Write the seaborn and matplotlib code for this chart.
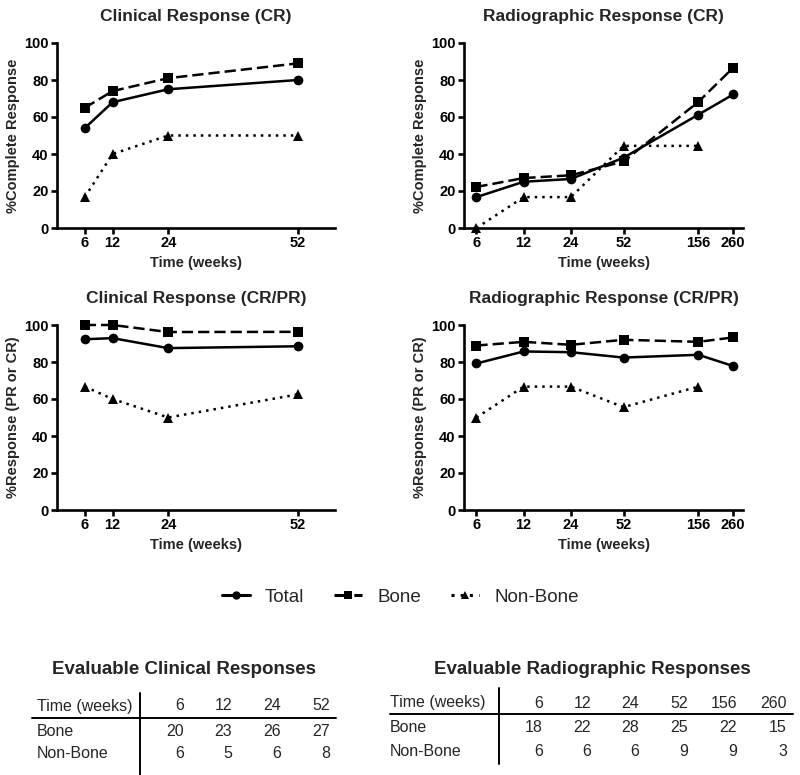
import numpy as np
import pandas as pd
import matplotlib
matplotlib.use('Agg')
import matplotlib.pyplot as plt
from matplotlib.lines import Line2D
import seaborn as sns

# ─── Data ─────────────────────────────────────────────────────────────────────
CLIN_WEEKS = [6, 12, 24, 52]
RAD_WEEKS  = [6, 12, 24, 52, 156, 260]

clin_cr_total    = [54.0, 68.0, 75.0, 80.0]
clin_cr_bone     = [65.0, 74.0, 81.0, 89.0]
clin_cr_nonbone  = [16.7, 40.0, 50.0, 50.0]

rad_cr_total     = [16.7, 25.0, 26.5, 38.0, 61.3, 72.2]
rad_cr_bone      = [22.2, 27.0, 28.5, 36.0, 68.2, 86.7]
rad_cr_nonbone   = [0.0, 16.7, 16.7, 44.4, 44.4]

clin_pr_total    = [92.3, 92.9, 87.5, 88.5]
clin_pr_bone     = [100.0, 100.0, 96.2, 96.3]
clin_pr_nonbone  = [66.7, 60.0, 50.0, 62.5]

rad_pr_total     = [79.2, 85.7, 85.3, 82.4, 83.9, 77.8]
rad_pr_bone      = [88.9, 90.9, 89.3, 92.0, 90.9, 93.3]
rad_pr_nonbone   = [50.0, 66.7, 66.7, 55.6, 66.7]

GROUPS = ['Total', 'Bone', 'Non-Bone']

clin_n_bone    = [20, 23, 26, 27]
clin_n_nonbone = [6, 5, 6, 8]
rad_n_bone     = [18, 22, 28, 25, 22, 15]
rad_n_nonbone  = [6, 6, 6, 9, 9, 3]

# ─── Style ────────────────────────────────────────────────────────────────────
sns.set_theme(style='ticks')
plt.rcParams['font.family'] = ['Liberation Sans', 'DejaVu Sans']
plt.rcParams['axes.linewidth'] = 1.9
plt.rcParams['xtick.major.width'] = 1.9
plt.rcParams['ytick.major.width'] = 1.9
plt.rcParams['xtick.major.size'] = 4.5
plt.rcParams['ytick.major.size'] = 4.5
plt.rcParams['axes.edgecolor'] = 'black'

MARKERS = {'Total': 'o', 'Bone': 's', 'Non-Bone': '^'}
DASHES  = {'Total': '', 'Bone': (4.5, 2), 'Non-Bone': (1, 2)}
PALETTE = {g: 'black' for g in GROUPS}

W, H = 800, 775
fig = plt.figure(figsize=(8, 7.75), dpi=100)


def px_axes(x0, y0, x1, y1):
    return fig.add_axes([x0 / W, 1 - y1 / H, (x1 - x0) / W, (y1 - y0) / H])


def make_df(weeks, total, bone, nonbone):
    rows = []
    for g, vals in zip(GROUPS, [total, bone, nonbone]):
        for w, v in zip(weeks, vals):
            rows.append({'week': w, 'pct': v, 'group': g})
    return pd.DataFrame(rows)


def panel(ax, df, title, ylabel, weeks, log=False):
    if log:
        ax.set_xscale('log')
    sns.lineplot(data=df, x='week', y='pct', hue='group', style='group',
                 hue_order=GROUPS, style_order=GROUPS, palette=PALETTE,
                 markers=MARKERS, dashes=DASHES, markersize=7,
                 markeredgewidth=0, linewidth=1.8, legend=False, ax=ax,
                 clip_on=False)
    ax.set_ylim(0, 100)
    ax.set_yticks([0, 20, 40, 60, 80, 100])
    if log:
        ax.set_xlim(5.0, 300)
    else:
        ax.set_xlim(0, 60)
    ax.set_xticks(weeks)
    ax.set_xticklabels([str(w) for w in weeks])
    ax.xaxis.set_minor_locator(matplotlib.ticker.NullLocator())
    ax.tick_params(labelsize=10.5, colors='black', pad=1.5)
    for lab in ax.get_xticklabels() + ax.get_yticklabels():
        lab.set_fontweight('bold')
    ax.set_title(title, fontsize=12.5, fontweight='bold', pad=16)
    ax.set_xlabel('Time (weeks)', fontsize=10.5, fontweight='bold', labelpad=4)
    ax.set_ylabel(ylabel, fontsize=10.5, fontweight='bold', labelpad=3)
    sns.despine(ax=ax)


ax1 = px_axes(57, 43, 335, 228)
ax2 = px_axes(464, 43, 743, 228)
ax3 = px_axes(57, 325, 335, 510)
ax4 = px_axes(464, 325, 743, 510)

panel(ax1, make_df(CLIN_WEEKS, clin_cr_total, clin_cr_bone, clin_cr_nonbone),
      'Clinical Response (CR)', '%Complete Response', CLIN_WEEKS)
panel(ax2, make_df(RAD_WEEKS, rad_cr_total, rad_cr_bone, rad_cr_nonbone),
      'Radiographic Response (CR)', '%Complete Response', RAD_WEEKS, log=True)
panel(ax3, make_df(CLIN_WEEKS, clin_pr_total, clin_pr_bone, clin_pr_nonbone),
      'Clinical Response (CR/PR)', '%Response (PR or CR)', CLIN_WEEKS)
panel(ax4, make_df(RAD_WEEKS, rad_pr_total, rad_pr_bone, rad_pr_nonbone),
      'Radiographic Response (CR/PR)', '%Response (PR or CR)', RAD_WEEKS, log=True)

# ─── Legend ───────────────────────────────────────────────────────────────────
handles = [Line2D([0], [0], color='black', marker=MARKERS[g], markersize=6,
                  markeredgewidth=0, linewidth=2.2,
                  linestyle=(0, DASHES[g]) if DASHES[g] else '-')
           for g in GROUPS]
fig.legend(handles, GROUPS, loc='center', bbox_to_anchor=(0.5, 1 - 597 / H),
           ncol=3, frameon=False, fontsize=13.5, handlelength=1.5,
           handletextpad=0.8, columnspacing=1.6)

# ─── Tables ───────────────────────────────────────────────────────────────────
def ftxt(x, y, s, **kw):
    fig.text(x / W, 1 - y / H, s, va='center', **kw)


def fline(x0, y0, x1, y1):
    fig.add_artist(Line2D([x0 / W, x1 / W], [1 - y0 / H, 1 - y1 / H],
                          transform=fig.transFigure, color='black', linewidth=1.4))


def table(title, tx, ty, lx, rows_y, hline, vline, col_x, weeks, bone, nonbone):
    ftxt(tx, ty, title, ha='center', fontsize=13.5, fontweight='bold')
    labels = ['Time (weeks)', 'Bone', 'Non-Bone']
    data = [weeks, bone, nonbone]
    for lab, vals, y in zip(labels, data, rows_y):
        ftxt(lx, y, lab, ha='left', fontsize=11.5)
        for x, v in zip(col_x, vals):
            ftxt(x, y, str(v), ha='right', fontsize=11.5)
    fline(*hline)
    fline(*vline)


table('Evaluable Clinical Responses', 184, 670, 37, [706, 731, 754],
      (32, 718, 336, 718), (140, 693, 140, 775),
      [184, 232, 281, 330], CLIN_WEEKS, clin_n_bone, clin_n_nonbone)
table('Evaluable Radiographic Responses', 592, 669, 390, [703, 727, 752],
      (390, 714, 793, 714), (499, 688, 499, 764),
      [543, 591, 639, 688, 737, 787], RAD_WEEKS, rad_n_bone, rad_n_nonbone)

fig.savefig('out.png', dpi=100, facecolor='white')
